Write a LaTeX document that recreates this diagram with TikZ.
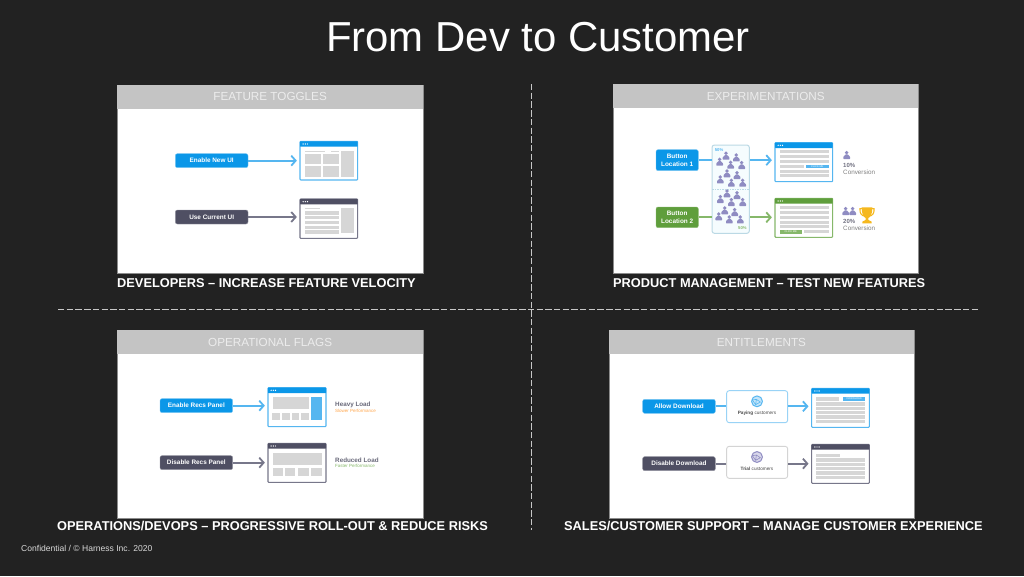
\documentclass[tikz,border=0pt]{standalone}
\usepackage{fontspec}
\setmainfont{Liberation Sans}
\usetikzlibrary{arrows.meta}
\definecolor{bgdark}{HTML}{222222}
\definecolor{hdr}{HTML}{C4C4C4}
\definecolor{hdrtxt}{HTML}{ECECEC}
\definecolor{blu}{HTML}{0B97E8}
\definecolor{blul}{HTML}{55B6F0}
\definecolor{slate}{HTML}{4F4F63}
\definecolor{slatel}{HTML}{77778A}
\definecolor{grn}{HTML}{5F9E3C}
\definecolor{grnl}{HTML}{86B86A}
\definecolor{cellg}{HTML}{D6D6D6}
\definecolor{ppl}{HTML}{8F8CC2}
\definecolor{gold}{HTML}{F5B81E}
\tikzset{
  x=1pt,y=-1pt,
  panel/.style={fill=white,draw=black!45,line width=.6pt,inner sep=0},
  headbar/.style={fill=hdr,inner sep=0,text=hdrtxt,font=\fontsize{11.7}{14}\selectfont},
  caption/.style={text=white,inner sep=0,anchor=west,font=\fontsize{12.8}{14}\selectfont\bfseries},
  btn/.style={rounded corners=2pt,text=white,align=center,font=\fontsize{6.4}{7.7}\selectfont\bfseries},
  btnblue/.style={btn,fill=blu,draw=blu!55,line width=.4pt},
  btnslate/.style={btn,fill=slate,draw=slate!60,line width=.4pt},
  btngreen/.style={btn,fill=grn,draw=grn!70,line width=.4pt},
  winb/.style={fill=white,rounded corners=.8pt,line width=1.1pt,draw=blul},
  winsl/.style={fill=white,rounded corners=.8pt,line width=1.1pt,draw=slatel},
  wing/.style={fill=white,rounded corners=.8pt,line width=1.1pt,draw=grnl},
  conn/.style={line width=1.7pt,shorten >=2.6pt,-{Straight Barb[length=4.4pt,width=10pt,line width=1.8pt]}},
  plainc/.style={line width=1.7pt},
  custb/.style={fill=white,rounded corners=2.5pt,line width=.9pt,draw=#1},
  smalltxt/.style={inner sep=0,anchor=west},
  divider/.style={white!78!black,line width=1pt,dash pattern=on 6.4pt off 2.3pt},
}
% box with corners given in zoom coordinates (3 units per pixel)
\newcommand\zbox[7][]{%
  \pgfmathsetmacro\zw{(#5-#3)/3}\pgfmathsetmacro\zh{(#6-#4)/3}%
  \node[#1,inner sep=0,minimum width=\zw pt,minimum height=\zh pt] (#2) at ({(#3+#5)/2},{(#4+#6)/2}) {#7};}
\newcommand\zr[5]{\fill[#5] (#1,#2) rectangle (#3,#4);}
% window frame: title bar and dots
\newcommand\win[7]{%
  \zbox[#6]{#1}{#2}{#3}{#4}{#5}{}%
  \fill[#7,rounded corners=.5pt] (#2,#3) rectangle (#4,#3+16);
  \foreach \d in {1,2,3} {\fill[white] (#2+3+\d*6.5,#3+8) circle (.7pt);}}
\newcommand\person[2]{%
  \fill[ppl] (#1,#2-7) circle (1.9pt);
  \fill[ppl,rounded corners=.5pt] (#1-10,#2+12) -- (#1-10,#2+5) -- (#1-3,#2-2) -- (#1+3,#2-2) -- (#1+10,#2+5) -- (#1+10,#2+12) -- cycle;}
\newcommand\globe[3]{%
  \fill[#3!35] (#1,#2) circle (5.8pt);
  \draw[#3,line width=.9pt] (#1,#2) circle (5.4pt);
  \draw[#3,line width=.6pt] (#1-14,#2-4) -- (#1-2,#2-6) -- (#1+10,#2+2) -- (#1-4,#2+10) -- cycle (#1-2,#2-6) -- (#1-4,#2+10);}
\begin{document}
\begin{tikzpicture}
\useasboundingbox (0,0) rectangle (1024,576);
\fill[bgdark] (0,0) rectangle (1024,576);
\node[inner sep=0,text=white,font=\fontsize{41.9}{46}\selectfont] (title) at (538,37) {From Dev to Customer};
% dividers
\coordinate (vt) at (531.5,84);\coordinate (vb) at (531.5,530);
\coordinate (hl) at (58,309);\coordinate (hr) at (980,309);
\draw[divider] (vt) -- (vb);
\draw[divider] (hl) -- (hr);
% ---------- feature toggles
\node[panel,minimum width=305.5pt,minimum height=188.5pt,anchor=north west] (p1) at (117.2,84.5) {};
\node[headbar,minimum width=305.5pt,minimum height=24.5pt,anchor=north west] (h1) at (117.2,84.5) {FEATURE TOGGLES};
\node[caption] (c1) at (117,283.5) {DEVELOPERS – INCREASE FEATURE VELOCITY};
\begin{scope}[shift={(110,80)},x=.33333pt,y=-.33333pt]
\zbox[btnblue]{a1}{196}{221}{414}{263}{Enable New UI}
\zbox[btnslate]{a2}{196}{390}{414}{432}{Use Current UI}
\win{aw1}{570}{184}{743}{300}{winb}{blu}
\win{aw2}{570}{357}{743}{475}{winsl}{slate}
\zr{584}{212}{645}{216}{cellg}\zr{663}{212}{686}{216}{cellg}
\zr{584}{222}{632}{252}{cellg}\zr{638}{222}{686}{252}{cellg}
\zr{584}{258}{632}{290}{cellg}\zr{638}{258}{686}{290}{cellg}
\zr{693}{212}{731}{290}{cellg}
\zr{584}{384}{630}{388}{cellg}
\foreach \y in {394,408,422,437,451} {\zr{584}{\y}{686}{\y+10}{cellg}}
\zr{693}{384}{731}{460}{cellg}
\draw[conn,blul] (a1) -- (a1-|aw1.west);
\draw[conn,slatel] (a2) -- (a2-|aw2.west);
\end{scope}
% ---------- experimentations
\node[panel,minimum width=305pt,minimum height=188.5pt,anchor=north west] (p2) at (613,84) {};
\node[headbar,minimum width=305pt,minimum height=24pt,anchor=north west] (h2) at (613,84) {EXPERIMENTATIONS};
\node[caption] (c2) at (613,283.5) {PRODUCT MANAGEMENT – TEST NEW FEATURES};
\begin{scope}[shift={(610,80)},x=.33333pt,y=-.33333pt]
\zbox[btnblue]{b1}{138}{209}{265}{272}{Button\\Location 1}
\zbox[btngreen]{b2}{138}{381}{265}{443}{Button\\Location 2}
\zbox[fill=cyan!4,draw=cyan!30!teal!30,rounded corners=2.5pt,line width=1pt]{crowd}{306}{195}{418}{460}{}
\draw[plainc,blul] (b1) -- (b1-|crowd.west);
\draw[plainc,grnl] (b2) -- (b2-|crowd.west);
\draw[cyan!30!teal!30,line width=.6pt,dash pattern=on 1.5pt off 1pt] (306,327) -- (418,327);
\foreach \a/\b in {228/47,259/52,209/65,242/74,275/75,231/100,261/105,211/118,244/128,278/128,231/160,261/165,211/177,244/186,278/186,224/211,254/216,206/229,238/238,271/238}
  {\person{120+\a}{180+\b}}
\node[smalltxt,text=blul,font=\fontsize{4.2}{5}\selectfont\bfseries] (pc1) at (314,211) {50\%};
\node[smalltxt,text=grnl,font=\fontsize{4.2}{5}\selectfont\bfseries] (pc2) at (384,444) {50\%};
\win{bw1}{495}{188}{668}{305}{winb}{blu}
\win{bw2}{495}{355}{668}{472}{wing}{grn}
\foreach \y in {211,226,239,269,283} {\zr{509}{\y}{656}{\y+9}{cellg}}
\zr{509}{255}{582}{264}{cellg}
\zbox[fill=blul,text=white,font=\fontsize{2.6}{3}\selectfont]{ck1}{588}{254}{656}{265}{CLICK ME}
\foreach \y in {379,394,408,422,436} {\zr{509}{\y}{656}{\y+9}{cellg}}
\zr{582}{450}{656}{459}{cellg}
\zbox[fill=grnl,text=white,font=\fontsize{2.6}{3}\selectfont]{ck2}{509}{449}{575}{461}{CLICK ME}
\draw[conn,blul] (crowd.east|-b1) -- (bw1.west|-b1);
\draw[conn,grnl] (crowd.east|-b2) -- (bw2.west|-b2);
\person{710}{225}
\person{707}{393}\person{728}{393}
\node[smalltxt,text=slate!80,font=\fontsize{6}{7}\selectfont\bfseries] (r1) at (699,255) {10\%};
\node[smalltxt,text=black!50,font=\fontsize{6.3}{7}\selectfont] (r2) at (699,277) {Conversion};
\node[smalltxt,text=slate!80,font=\fontsize{6}{7}\selectfont\bfseries] (r3) at (699,424) {20\%};
\node[smalltxt,text=black!50,font=\fontsize{6.3}{7}\selectfont] (r4) at (699,446) {Conversion};
\draw[gold,line width=1.1pt] (756,386) -- (750,386) .. controls (748,400) and (756,408) .. (764,408);
\draw[gold,line width=1.1pt] (786,386) -- (792,386) .. controls (794,400) and (786,408) .. (778,408);
\fill[gold] (755,382) -- (787,382) .. controls (787,405) and (780,412) .. (775,414) -- (775,420) -- (785,425) -- (785,430) -- (757,430) -- (757,425) -- (767,420) -- (767,414) .. controls (762,412) and (755,405) .. (755,382) -- cycle;
\end{scope}
% ---------- operational flags
\node[panel,minimum width=305.5pt,minimum height=188.5pt,anchor=north west] (p3) at (117.2,329.7) {};
\node[headbar,minimum width=305.5pt,minimum height=24.3pt,anchor=north west] (h3) at (117.2,329.7) {OPERATIONAL FLAGS};
\node[caption] (c3) at (57,525.5) {OPERATIONS/DEVOPS – PROGRESSIVE ROLL-OUT \& REDUCE RISKS};
\begin{scope}[shift={(110,325)},x=.33333pt,y=-.33333pt]
\zbox[btnblue]{d1}{150}{221}{368}{263}{Enable Recs Panel}
\zbox[btnslate]{d2}{150}{392}{368}{434}{Disable Recs Panel}
\win{dw1}{474}{188}{648}{305}{winb}{blu}
\win{dw2}{474}{355}{648}{472}{winsl}{slate}
\zr{488}{216}{597}{253}{cellg}
\zr{604}{216}{635}{285}{blul}
\foreach \x in {487,516,545,574} {\zr{\x}{263}{\x+23}{285}{cellg}}
\zr{488}{383}{635}{420}{cellg}
\foreach \x in {488,525,565,604} {\zr{\x}{430}{\x+31}{452}{cellg}}
\draw[conn,blul] (d1) -- (d1-|dw1.west);
\draw[conn,slatel] (d2) -- (d2-|dw2.west);
\node[smalltxt,text=slate!85,font=\fontsize{6.3}{7}\selectfont\bfseries] (t1) at (675,240) {Heavy Load};
\node[smalltxt,text=orange!70,font=\fontsize{4.5}{5}\selectfont] (t2) at (675,257) {Slower Performance};
\node[smalltxt,text=slate!85,font=\fontsize{6.3}{7}\selectfont\bfseries] (t3) at (675,406) {Reduced Load};
\node[smalltxt,text=grnl,font=\fontsize{4.5}{5}\selectfont] (t4) at (675,424) {Faster Performance};
\end{scope}
% ---------- entitlements
\node[panel,minimum width=305.5pt,minimum height=188.5pt,anchor=north west] (p4) at (608.5,329.7) {};
\node[headbar,minimum width=305.5pt,minimum height=24.3pt,anchor=north west] (h4) at (608.5,329.7) {ENTITLEMENTS};
\node[caption] (c4) at (564,525.5) {SALES/CUSTOMER SUPPORT – MANAGE CUSTOMER EXPERIENCE};
\begin{scope}[shift={(605,325)},x=.33333pt,y=-.33333pt]
\zbox[btnblue]{e1}{113}{223}{331}{265}{Allow Download}
\zbox[btnslate]{e2}{113}{395}{331}{437}{Disable Download}
\zbox[custb=blul!60]{k1}{365}{197}{548}{293}{}
\zbox[custb=black!17]{k2}{365}{364}{548}{460}{}
\win{ew1}{620}{190}{793}{307}{winb}{blu}
\win{ew2}{620}{358}{793}{475}{winsl}{slate}
\draw[plainc,blul] (e1) -- (e1-|k1.west);
\draw[plainc,slatel] (e2) -- (e2-|k2.west);
\draw[conn,blul] (e1-|k1.east) -- (e1-|ew1.west);
\draw[conn,slatel] (e2-|k2.east) -- (e2-|ew2.west);
\globe{456}{229}{blul}
\globe{456}{396}{ppl}
\node[inner sep=0,text=black!70,font=\fontsize{4.7}{5}\selectfont] (k1t) at (456,266) {\textbf{Paying} customers};
\node[inner sep=0,text=black!70,font=\fontsize{4.7}{5}\selectfont] (k2t) at (456,432) {\textbf{Trial} customers};
\zr{634}{216}{702}{227}{cellg}
\zbox[fill=blul,text=white,font=\fontsize{2.6}{3}\selectfont]{dl}{714}{215}{781}{227}{DOWNLOAD}
\foreach \y in {232,245,258,271,284} {\zr{634}{\y}{781}{\y+10}{cellg}}
\zr{634}{386}{705}{396}{cellg}
\foreach \y in {400,413,426,439,452} {\zr{634}{\y}{781}{\y+10}{cellg}}
\end{scope}
\node[smalltxt,text=white!85!black,font=\fontsize{8.55}{10}\selectfont] (foot) at (21,548.5) {Confidential / © Harness Inc. 2020};
\end{tikzpicture}
\end{document}
